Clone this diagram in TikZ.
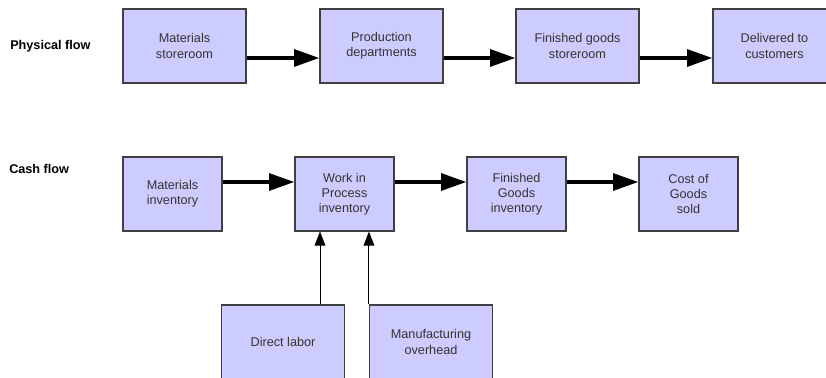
\documentclass[tikz,border=0pt]{standalone}
\usepackage{fontspec}
\setmainfont{Liberation Sans}
\usepackage{tikz}
\usetikzlibrary{positioning,arrows.meta}
\definecolor{boxfill}{HTML}{CCCCFF}
\definecolor{boxline}{HTML}{404040}
\definecolor{boxtext}{HTML}{333333}
\tikzset{
	stage/.style={draw=boxline, fill=boxfill, text=boxtext, line width=0.8pt,
		minimum height=55.5pt, align=center, inner sep=2pt,
		font=\fontsize{9.5}{11.3}\selectfont},
	wide/.style={stage, minimum width=92.25pt},
	narrow/.style={stage, minimum width=74.25pt},
	rowlabel/.style={font=\fontsize{9.5}{11.3}\selectfont\bfseries, anchor=west, inner sep=0pt},
	flow/.style={line width=3pt, -{Triangle[length=19pt, width=12.5pt]}},
	feed/.style={line width=0.75pt, -{Triangle[length=10.5pt, width=8pt]}},
}

\begin{document}
\begin{tikzpicture}[x=0.75pt, y=-0.75pt]
	\useasboundingbox (0,0) rectangle (826,378);

	% physical flow
	\node[rowlabel] (pf) at (10,46) {Physical flow};
	\node[wide] (ms) at (184.5,46) {Materials\\storeroom};
	\node[wide] (pd) at (381.5,46) {Production\\departments};
	\node[wide] (fgs) at (577.5,46) {Finished goods\\storeroom};
	\node[wide] (dc) at (774.5,46) {Delivered to\\customers};

	\draw[flow] ([yshift=-9pt]ms.east) -- ([yshift=-9pt]pd.west);
	\draw[flow] ([yshift=-9pt]pd.east) -- ([yshift=-9pt]fgs.west);
	\draw[flow] ([yshift=-9pt]fgs.east) -- ([yshift=-9pt]dc.west);

	% cash flow
	\node[rowlabel] (cf) at (9,169) {Cash flow};
	\node[narrow] (mi) at (172.5,194) {Materials\\inventory};
	\node[narrow] (wip) at (344.5,194) {Work in\\Process\\inventory};
	\node[narrow] (fgi) at (516.5,194) {Finished\\Goods\\inventory};
	\node[narrow] (cogs) at (688.5,194) {Cost of\\Goods\\sold};

	\draw[flow] ([yshift=9pt]mi.east) -- ([yshift=9pt]wip.west);
	\draw[flow] ([yshift=9pt]wip.east) -- ([yshift=9pt]fgi.west);
	\draw[flow] ([yshift=9pt]fgi.east) -- ([yshift=9pt]cogs.west);

	\node[wide] (dl) at (283,342) {Direct labor};
	\node[wide] (moh) at (431,342) {Manufacturing\\overhead};

	\draw[feed] ([xshift=27.75pt]dl.north) coordinate (dltop) -- (dltop |- wip.south);
	\draw[feed] (moh.north west) -- (moh.north west |- wip.south);
\end{tikzpicture}
\end{document}
